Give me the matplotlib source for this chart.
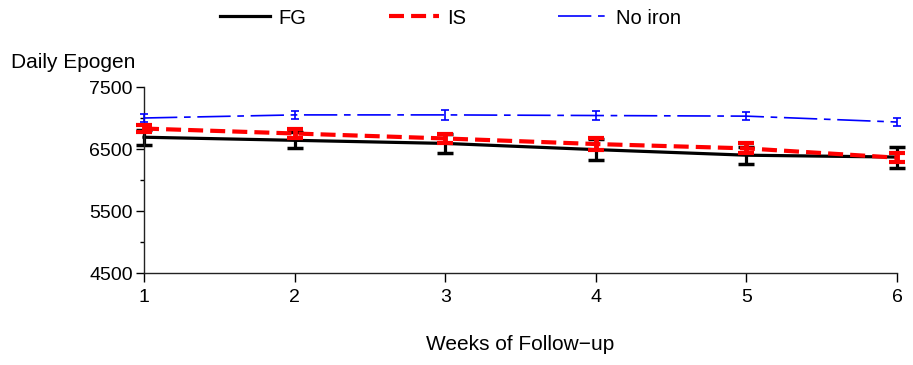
import matplotlib
matplotlib.use("Agg")
import matplotlib.pyplot as plt
from matplotlib.lines import Line2D
from matplotlib.ticker import MultipleLocator

plt.rcParams['font.family'] = ['Liberation Sans', 'DejaVu Sans']

# data
weeks = [1, 2, 3, 4, 5, 6]
fg = [6690, 6640, 6590, 6490, 6400, 6370]
fg_err = [120, 130, 160, 170, 140, 170]
iss = [6830, 6750, 6670, 6580, 6510, 6360]
iss_err = [60, 70, 80, 90, 80, 70]
no_iron = [7000, 7050, 7050, 7040, 7030, 6935]
no_iron_err = [70, 70, 75, 70, 70, 70]

W, H = 913, 365
fig = plt.figure(figsize=(W / 100, H / 100), dpi=100)
ax = fig.add_axes([144 / W, 1 - 273 / H, (897 - 144) / W, (273 - 87) / H])

fg_style = dict(color='black', lw=2.3, ls='-')
is_style = dict(color='red', lw=3.0, ls=(0, (3.6, 1.7)))
ni_style = dict(color='blue', lw=1.2, ls=(0, (20, 4, 4, 4)))

e = ax.errorbar(weeks, fg, yerr=fg_err, elinewidth=2.3, capsize=5.5, capthick=2.5,
                zorder=2, clip_on=False, **fg_style)
for a in e.lines[1] + e.lines[2]:
    a.set_clip_on(False)
e = ax.errorbar(weeks, iss, yerr=iss_err, elinewidth=3.5, capsize=5.5, capthick=3,
                zorder=3, clip_on=False, **is_style)
for a in e.lines[1] + e.lines[2]:
    a.set_clip_on(False)
e = ax.errorbar(weeks, no_iron, yerr=no_iron_err, elinewidth=1.2, capsize=3.2, capthick=1.2,
                zorder=4, clip_on=False, **ni_style)
for a in e.lines[1] + e.lines[2]:
    a.set_clip_on(False)

ax.set_xlim(1, 6)
ax.set_ylim(4500, 7500)
ax.set_xticks(weeks)
ax.set_yticks([4500, 5500, 6500, 7500])
ax.yaxis.set_minor_locator(MultipleLocator(500))
for s in ['top', 'right']:
    ax.spines[s].set_visible(False)
for s in ['left', 'bottom']:
    ax.spines[s].set_linewidth(1.0)
    ax.spines[s].set_color('#222222')
ax.tick_params(axis='x', direction='out', length=6.5, width=1.0, pad=5, labelsize=14)
ax.tick_params(axis='y', which='major', direction='out', length=6, width=1.0, pad=2, labelsize=14)
ax.tick_params(axis='y', which='minor', direction='out', length=3, width=1.0)

fig.text(11 / W, 1 - 62 / H, 'Daily Epogen', fontsize=15, va='center', ha='left')
fig.text(520 / W, 1 - 345 / H, 'Weeks of Follow\u2212up', fontsize=15, va='center', ha='center')

# legend along the top
legend_items = [('FG', fg_style, 220), ('IS', is_style, 389), ('No iron', ni_style, 558)]
for label, style, x0 in legend_items:
    fig.add_artist(Line2D([x0 / W, (x0 + 50) / W], [1 - 16 / H, 1 - 16 / H],
                          transform=fig.transFigure, **style))
    fig.text((x0 + 58) / W, 1 - 18 / H, label, fontsize=14.5, va='center', ha='left')

fig.savefig('out.png', dpi=100)
